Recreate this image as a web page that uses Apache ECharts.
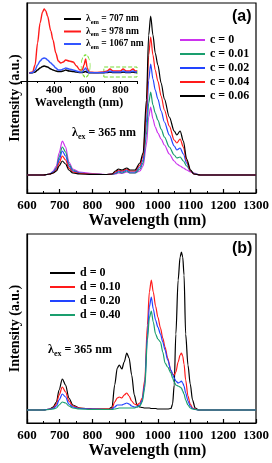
<!DOCTYPE html>
<html><head><meta charset="utf-8">
<script src="https://cdn.jsdelivr.net/npm/echarts@6/dist/echarts.min.js"></script>
<style>html,body{margin:0;padding:0;background:#fff}#c{width:272px;height:463px}</style>
</head><body><div id="c"></div>
<script>
// ---------- Panel (a): emission spectra, varying c ----------
const wlA = [600,650,670,680,690,698,708,718,728,740,760,800,840,860,870,880,890,905,915,930,945,955,965,972,978,985,992,1000,1010,1020,1035,1050,1058,1068,1078,1088,1100,1110,1130,1200,1300];
const namesA = ['c = 0','c = 0.01','c = 0.02','c = 0.04','c = 0.06'];
const a_c0    = [0,0,1,4,9,22,34,28,13,6,3,1.5,0.5,0.5,1,2,1.5,3,2,2,4,9,30,58,68,56,48,42,36,30,21,14,11,9,7,5,3,2,0,0,0];
const a_c001  = [0,0,1,3,7,18,28,23,11,5,2,1,0.5,0.5,1.5,3,2,4,2,2,6,12,40,72,83,70,62,55,46,38,28,20,17,18,14,9,4,1.5,0,0,0];
const a_c002  = [0,0,1,3,6,15,24,19,9,4,2,1,0.5,1,2,4,3,5,3,3,8,15,52,95,111,96,85,76,64,53,40,29,25,27,21,12,4,1,0,0,0];
const a_c004  = [0,0,1,2,5,12,19,15,7,3,1.5,1,0.5,1,3,5,4,6,4,4,10,19,65,120,138,120,105,94,79,65,49,35,32,36,28,14,4,1,0,0,0];
const a_c006  = [0,0,1,2,4,9,14,11,5,2,1,0.5,0.5,1,4,6,5,7,5,5,12,22,75,140,159,140,122,110,92,76,58,44,40,44,34,16,5,1,0,0,0];

// ---------- Inset: excitation spectra ----------
const wlI = [250,270,285,300,315,330,340,350,360,380,393,410,425,440,455,470,490,515,535,555,570,580,590,600,610,650,700,720,737,755,780,800,816,835,855,876,890,900];
const namesI = ['707','978','1067'];
const i_707  = [0,0.3,1,3,5,6.5,7,6.5,6,4,3,2,1.5,1.5,2,3,2,1.5,1,0.5,0.5,1,1.5,0.7,0.3,0.2,0.3,0.5,1,0.5,0.5,0.5,1,0.5,0.5,1,0.5,0.5];
const i_978  = [0,1,8,30,50,61,64,62,57,42,33,20,12,10,11,13,12,11,7,3,3,8,14,5,1,0.5,1,2,4,2,2,2,4,2,2,4,2,2];
const i_1067 = [0,0.5,3,8,12,14.5,15,14.5,13,10,8,5,3,3,4,5,4,3,2,1,1,3,5,2,0.5,0.3,0.5,1,2,1,1,1,2,1,1,2,1,1];
const insetTicks = [400,600,800];

// ---------- Panel (b): emission spectra, varying d ----------
const wlB = [600,650,670,680,690,698,708,718,728,740,760,800,850,860,868,876,882,890,897,905,912,920,928,936,945,952,960,968,974,980,986,993,1000,1008,1015,1022,1030,1040,1045,1050,1055,1062,1068,1072,1076,1080,1085,1092,1099,1106,1114,1125,1200,1300];
const namesB = ['d = 0','d = 0.10','d = 0.20','d = 0.40'];
const b_d0   = [0,0,1,3,8,20,31,25,12,5,2,1,1,3,25,42,45,41,48,57,52,35,15,5,3,2.5,2,2,2,1.5,1.5,1.5,1,1,1,1,1,1.5,6,25,76,130,153,158,153,135,76,45,26,10,2,0,0,0];
const b_d010 = [0,0,1,2,6,15,23,18,9,4,2,1,1,1.5,8,12,13,12,15,17,14,9,6,5,7,12,30,85,118,130,118,104,93,82,72,63,52,39,36,35,38,48,55,57,54,46,30,14,6,2,1,0,0,0];
const b_d020 = [0,0,1,1.5,4,10,16,13,6,3,1.5,1,0.5,1,3,5,5,5,6,7,6,4,3,3,5,10,26,75,103,113,101,90,83,76,68,60,50,40,36,32,29,27,28,29,27,24,17,9,4,1.5,0.5,0,0,0];
const b_d040 = [0,0,0.5,1,2,5,8,7,4,2,1,0.5,0.5,0.5,1,1.5,2,2,2,2,2,2,2,3,4,8,22,70,92,99,88,76,71,68,58,47,43,37,32,28,25,24,23,22,19,16,10,5,2,1,0.5,0,0,0];

const colA = ['#cc33ee','#1a9e6e','#2244ff','#ff1a1a','#000000'];
const colI = ['#000000','#ff1a1a','#3355ff'];
const colB = ['#000000','#ff1a1a','#2244ff','#1a9e6e'];

const SERIF = '"Liberation Serif", "Times New Roman", serif';
const SANS = '"Liberation Sans", Arial, sans-serif';

function pairs(xs, ys){ return xs.map((x,i)=>[x, ys[i]]); }

function mainX(gi){
  return {
    gridIndex: gi, type:'value', min:600, max:1300, interval:100,
    axisLine:{show:true, onZero:false, lineStyle:{color:'#000', width:1.2}},
    axisTick:{show:true, inside:true, length:4, lineStyle:{color:'#000', width:1.2}},
    minorTick:{show:true, splitNumber:2, length:2, lineStyle:{color:'#000', width:1}},
    splitLine:{show:false},
    axisLabel:{show:true, margin:6, color:'#000', fontFamily:SERIF, fontWeight:'bold', fontSize:13, formatter:v=>String(v)},
    name:'Wavelength (nm)', nameLocation:'middle', nameGap:17,
    nameTextStyle:{color:'#000', fontFamily:SERIF, fontWeight:'bold', fontSize:16, padding:[0,0,0,12]}
  };
}
function mainY(gi, mn, mx){
  return {
    gridIndex: gi, type:'value', min:mn, max:mx,
    axisLine:{show:true, onZero:false, lineStyle:{color:'#000', width:1.2}},
    axisTick:{show:false}, axisLabel:{show:false}, splitLine:{show:false},
    name:'Intensity (a.u.)', nameLocation:'middle', nameGap:5, nameRotate:90,
    nameTextStyle:{color:'#000', fontFamily:SERIF, fontWeight:'bold', fontSize:14}
  };
}

const series = [];
const dA = [a_c0,a_c001,a_c002,a_c004,a_c006];
namesA.forEach((n,i)=>series.push({
  name:n, type:'line', xAxisIndex:0, yAxisIndex:0, data:pairs(wlA,dA[i]),
  symbol:'none', smooth:0.3, smoothMonotone:'x', color:colA[i], lineStyle:{width:1.2, color:colA[i]}
}));
const dI = [i_707,i_978,i_1067];
namesI.forEach((n,i)=>{
  const s = {
    name:n, type:'line', xAxisIndex:1, yAxisIndex:1, data:pairs(wlI,dI[i]),
    symbol:'none', smooth:0.3, smoothMonotone:'x', color:colI[i], lineStyle:{width:1.4, color:colI[i]}
  };
  if (i===0) {
    s.markArea = {silent:true, itemStyle:{color:'rgba(0,0,0,0)', borderColor:'#77dd33', borderWidth:1, borderType:'dashed'},
      data:[[{coord:[700,-4]},{coord:[900,6]}]]};
    s.markPoint = {silent:true, symbol:'circle', symbolSize:[9,22], label:{show:false},
      itemStyle:{color:'rgba(0,0,0,0)', borderColor:'#77dd33', borderWidth:1, borderType:'dashed'},
      data:[{coord:[590,7]}]};
  }
  series.push(s);
});
const dB = [b_d0,b_d010,b_d020,b_d040];
namesB.forEach((n,i)=>series.push({
  name:n, type:'line', xAxisIndex:2, yAxisIndex:2, data:pairs(wlB,dB[i]),
  symbol:'none', smooth:0.3, smoothMonotone:'x', color:colB[i], lineStyle:{width:1.2, color:colB[i]}
}));

const legText = {color:'#000', fontFamily:SERIF, fontWeight:'bold', fontSize:12, lineHeight:12};
const option = {
  animation:false,
  backgroundColor:'#fff',
  grid:[
    {left:21, right:15, top:3, bottom:270, show:true, borderColor:'#000', borderWidth:1.2, backgroundColor:'transparent'},
    {left:21, width:116, top:5, height:76, show:false},
    {left:21, right:15, top:234, bottom:40, show:true, borderColor:'#000', borderWidth:1.2, backgroundColor:'transparent'}
  ],
  xAxis:[
    mainX(0),
    {gridIndex:1, type:'value', min:200, max:900, interval:200,
     axisLine:{show:true, onZero:false, lineStyle:{color:'#000', width:1.2}},
     axisTick:{show:true, inside:false, length:3, lineStyle:{color:'#000'}},
     minorTick:{show:true, splitNumber:2, length:2, lineStyle:{color:'#000'}},
     splitLine:{show:false},
     axisLabel:{margin:4, color:'#000', fontFamily:SERIF, fontWeight:'bold', fontSize:11, showMaxLabel:false,
       formatter:v=> (insetTicks.indexOf(v)>=0 ? String(v) : '')},
     name:'Wavelength (nm)', nameLocation:'middle', nameGap:13,
     nameTextStyle:{color:'#000', fontFamily:SERIF, fontWeight:'bold', fontSize:12}},
    mainX(2)
  ],
  yAxis:[
    mainY(0,-18,172),
    {gridIndex:1, type:'value', min:-8, max:68, show:false},
    mainY(2,-13,176)
  ],
  legend:[
    {data:namesA, orient:'vertical', left:175, top:29, icon:'rect', itemWidth:25, itemHeight:2, itemGap:2, textStyle:legText, selectedMode:false},
    {data:namesI, orient:'vertical', left:59, top:9, icon:'rect', itemWidth:17, itemHeight:2, itemGap:1, selectedMode:false,
     formatter: n => '{a|λ}{s|em}{a| = ' + n + ' nm}',
     textStyle:{color:'#000', fontFamily:SERIF, fontWeight:'bold', fontSize:9.5,
       rich:{a:{fontFamily:SERIF, fontWeight:'bold', fontSize:9.5, lineHeight:13, verticalAlign:'middle'},
             s:{fontFamily:SERIF, fontWeight:'bold', fontSize:6.5, lineHeight:13, verticalAlign:'bottom'}}}},
    {data:namesB, orient:'vertical', left:45, top:262, icon:'rect', itemWidth:25, itemHeight:2, itemGap:2, textStyle:legText, selectedMode:false}
  ],
  graphic:[
    {type:'text', left:232, top:9, style:{text:'(a)', fontFamily:SANS, fontWeight:'bold', fontSize:16, fill:'#000'}},
    {type:'text', left:232, top:241, style:{text:'(b)', fontFamily:SANS, fontWeight:'bold', fontSize:16, fill:'#000'}},
    {type:'text', left:72, top:127, style:{text:'{a|λ}{s|ex}{a| = 365 nm}', fill:'#000',
      rich:{a:{fontFamily:SERIF, fontWeight:'bold', fontSize:12, lineHeight:16, verticalAlign:'middle'},
            s:{fontFamily:SERIF, fontWeight:'bold', fontSize:8, lineHeight:16, verticalAlign:'bottom'}}}},
    {type:'text', left:48, top:344, style:{text:'{a|λ}{s|ex}{a| = 365 nm}', fill:'#000',
      rich:{a:{fontFamily:SERIF, fontWeight:'bold', fontSize:12, lineHeight:16, verticalAlign:'middle'},
            s:{fontFamily:SERIF, fontWeight:'bold', fontSize:8, lineHeight:16, verticalAlign:'bottom'}}}}
  ],
  series: series
};
const chart = echarts.init(document.getElementById('c'), null, {renderer:'canvas'});
chart.setOption(option);
</script>
</body></html>
